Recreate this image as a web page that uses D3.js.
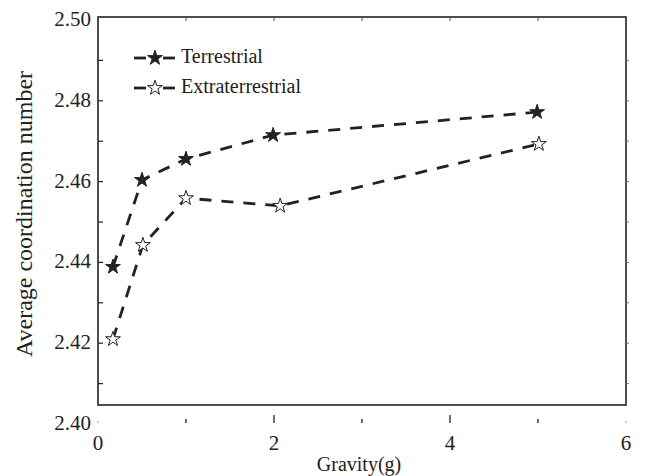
<!DOCTYPE html>
<html>
<head>
<meta charset="utf-8">
<script src="https://cdn.jsdelivr.net/npm/d3@7"></script>
<style>
  html, body { margin: 0; padding: 0; background: #fff; }
  svg { display: block; }
</style>
</head>
<body>
<svg id="chart" width="651" height="476"></svg>
<script>
// ---- data ----
const seriesNames = ["Terrestrial", "Extraterrestrial"];
const terrestrialX = [0.17, 0.5, 1.0, 1.99, 4.99];
const terrestrialY = [2.4389, 2.4604, 2.4656, 2.4715, 2.4772];
const extraX = [0.17, 0.51, 1.0, 2.07, 5.01];
const extraY = [2.4210, 2.4443, 2.4559, 2.4540, 2.4693];
const xTickLabels = [0, 2, 4, 6];
const yTickLabels = [2.40, 2.42, 2.44, 2.46, 2.48, 2.50];
const xMinorTicks = [1, 3, 5];
const yMinorTicks = [2.41, 2.42, 2.43, 2.44, 2.45, 2.46, 2.47, 2.48, 2.49];

// ---- layout ----
const FONT = "'Liberation Serif', 'Times New Roman', Times, 'DejaVu Serif', serif";
const svg = d3.select("#chart").attr("font-family", FONT);
const x = d3.scaleLinear().domain([0, 6]).range([98, 626]);
const y = d3.scaleLinear().domain([2.40, 2.50]).range([424, 20]);
const frameTop = 17, frameBottom = 405;
const ink = "#222";

// frame
svg.append("rect")
  .attr("x", x(0)).attr("y", frameTop)
  .attr("width", x(6) - x(0)).attr("height", frameBottom - frameTop)
  .attr("fill", "none").attr("stroke", ink).attr("stroke-width", 1.6);

// left ticks (inward)
svg.append("g").selectAll("line").data(yMinorTicks).join("line")
  .attr("x1", x(0)).attr("x2", x(0) + 5)
  .attr("y1", d => y(d)).attr("y2", d => y(d))
  .attr("stroke", ink).attr("stroke-width", 1.2);
// right ticks (small, outward)
svg.append("g").selectAll("line").data(yMinorTicks).join("line")
  .attr("x1", x(6)).attr("x2", x(6) + 3)
  .attr("y1", d => y(d)).attr("y2", d => y(d))
  .attr("stroke", "#777").attr("stroke-width", 1);
// top ticks (inward)
svg.append("g").selectAll("line").data([1, 2, 3, 4, 5]).join("line")
  .attr("x1", d => x(d)).attr("x2", d => x(d))
  .attr("y1", frameTop).attr("y2", frameTop + 4)
  .attr("stroke", "#555").attr("stroke-width", 1);
// bottom detached ticks
svg.append("g").selectAll("line").data([2, 4]).join("line")
  .attr("x1", d => x(d)).attr("x2", d => x(d))
  .attr("y1", 415).attr("y2", 423)
  .attr("stroke", ink).attr("stroke-width", 1.3);
svg.append("g").selectAll("line").data(xMinorTicks).join("line")
  .attr("x1", d => x(d)).attr("x2", d => x(d))
  .attr("y1", 419).attr("y2", 423)
  .attr("stroke", ink).attr("stroke-width", 1.3);
svg.append("g").selectAll("line").data([0, 6]).join("line")
  .attr("x1", d => x(d)).attr("x2", d => x(d))
  .attr("y1", 421).attr("y2", 423)
  .attr("stroke", "#999").attr("stroke-width", 1);

// y tick labels
svg.append("g").selectAll("text").data(yTickLabels).join("text")
  .attr("x", 91).attr("y", d => y(d) + 6)
  .attr("text-anchor", "end")
  .attr("font-size", 21).attr("fill", ink)
  .text(d => d3.format(".2f")(d));
// x tick labels
svg.append("g").selectAll("text").data(xTickLabels).join("text")
  .attr("x", d => x(d)).attr("y", 450)
  .attr("text-anchor", "middle")
  .attr("font-size", 21).attr("fill", ink)
  .text(d => d);

// axis titles
svg.append("text")
  .attr("x", 359).attr("y", 471)
  .attr("text-anchor", "middle")
  .attr("font-size", 20).attr("fill", ink)
  .text("Gravity(g)");
svg.append("text")
  .attr("transform", "translate(32,214) rotate(-90)")
  .attr("text-anchor", "middle")
  .attr("font-size", 24).attr("fill", ink)
  .text("Average coordination number");

// series
const series = [
  { name: seriesNames[0], xs: terrestrialX, ys: terrestrialY, fill: ink },
  { name: seriesNames[1], xs: extraX, ys: extraY, fill: "#fff" }
];
const line = d3.line().x(d => x(d[0])).y(d => y(d[1]));
const star = d3.symbol().type(d3.symbolStar).size(68);

series.forEach(s => {
  const pts = s.xs.map((v, i) => [v, s.ys[i]]);
  svg.append("path")
    .attr("d", line(pts))
    .attr("fill", "none").attr("stroke", ink)
    .attr("stroke-width", 2.8).attr("stroke-dasharray", "12,10");
  svg.append("g").selectAll("path").data(pts).join("path")
    .attr("d", star)
    .attr("transform", d => `translate(${x(d[0])},${y(d[1])})`)
    .attr("fill", s.fill).attr("stroke", ink).attr("stroke-width", 1);
});

// legend
const legendY = [58, 88];
series.forEach((s, i) => {
  const g = svg.append("g").attr("transform", `translate(0,${legendY[i]})`);
  g.append("line").attr("x1", 134).attr("x2", 146).attr("y1", 0).attr("y2", 0)
    .attr("stroke", ink).attr("stroke-width", 2.8);
  g.append("line").attr("x1", 163).attr("x2", 175).attr("y1", 0).attr("y2", 0)
    .attr("stroke", ink).attr("stroke-width", 2.8);
  g.append("path").attr("d", star).attr("transform", "translate(155,0)")
    .attr("fill", s.fill).attr("stroke", ink).attr("stroke-width", 1);
  g.append("text").attr("x", 181).attr("y", 5)
    .attr("font-size", 20).attr("fill", ink)
    .text(s.name);
});
</script>
</body>
</html>
